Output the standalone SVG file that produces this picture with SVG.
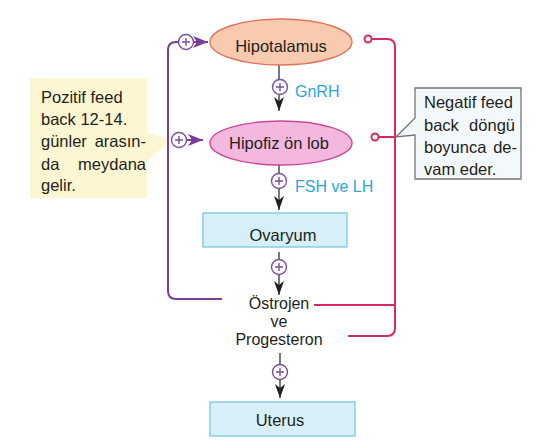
<svg xmlns="http://www.w3.org/2000/svg" width="553" height="442" viewBox="0 0 553 442">
<style>
text{font-family:"Liberation Sans",Arial,sans-serif;font-size:16.5px;fill:#231f20}
.lbl{fill:#2aa7d8;font-size:16px}
.ep{font-size:16px}
.stem{stroke:#231f20;stroke-width:1.2;fill:none}
.pc{fill:#fff;stroke:#7a4f9e;stroke-width:1.4}
.pl{stroke:#7a4f9e;stroke-width:1.4}
.pur{stroke:#7b3c9c;stroke-width:2;fill:none}
.red{stroke:#d72a60;stroke-width:2;fill:none}
.rc{fill:#fff;stroke:#d72a60;stroke-width:2}
.box{fill:#d6eff8;stroke:#6ec4e0;stroke-width:1.2}
</style>
<defs>
<marker id="ab" markerUnits="userSpaceOnUse" viewBox="0 0 14 10" refX="14" refY="5" markerWidth="14" markerHeight="10" orient="auto">
<path d="M0,0 L14,5 L0,10 L4,5 Z" fill="#231f20"/>
</marker>
<marker id="ap" markerUnits="userSpaceOnUse" viewBox="0 0 15 12" refX="15" refY="6" markerWidth="15" markerHeight="12" orient="auto">
<path d="M0,0 L15,6 L0,12 L4,6 Z" fill="#7b3c9c"/>
</marker>
</defs>
<rect width="553" height="442" fill="#fff"/>

<g id="pozitif-note">
<polygon points="146,132 171,140 146,162" fill="#fdf6d2"/>
<rect x="30" y="78" width="117" height="120" fill="#fdf6d2"/>
<text x="41" y="103">Pozitif feed</text>
<text x="41" y="125">back 12-14.</text>
<text x="41" y="147">günler</text><text x="146" y="147" text-anchor="end">arasın-</text>
<text x="41" y="170">da</text><text x="146" y="170" text-anchor="end">meydana</text>
<text x="41" y="191">gelir.</text>
</g>

<g id="negatif-note">
<path d="M415,88 H521 V179 H415 V135 L396,137 L415,118 Z" fill="#f3f8fb" stroke="#747474" stroke-width="1.3"/>
<text x="424" y="108">Negatif feed</text>
<text x="424" y="131">back</text><text x="515" y="131" text-anchor="end">döngü</text>
<text x="424" y="153">boyunca</text><text x="517" y="153" text-anchor="end">de-</text>
<text x="424" y="175">vam eder.</text>
</g>

<g id="connectors">
<path class="pur" d="M222,299 H176 Q168,299 168,291 V50 Q168,42 176,42 H178"/>
<line class="pur" x1="194" y1="42" x2="208" y2="42" marker-end="url(#ap)"/>
<line class="pur" x1="187" y1="140" x2="203" y2="140" marker-end="url(#ap)"/>
<path class="red" d="M371.5,39 H387 Q395,39 395,47 V328 Q395,336 387,336 H348"/>
<line class="red" x1="378.5" y1="137" x2="395" y2="137"/>
<line class="red" x1="314" y1="305" x2="395" y2="305"/>
<circle class="rc" cx="368" cy="39" r="3.5"/>
<circle class="rc" cx="375" cy="137" r="3.5"/>

<line class="stem" x1="279" y1="65" x2="279" y2="79.5"/>
<line class="stem" x1="279" y1="94.5" x2="279" y2="111" marker-end="url(#ab)"/>
<line class="stem" x1="279" y1="165" x2="279" y2="173.5"/>
<line class="stem" x1="279" y1="188.5" x2="279" y2="210" marker-end="url(#ab)"/>
<line class="stem" x1="279" y1="252" x2="279" y2="259.5"/>
<line class="stem" x1="279" y1="274.5" x2="279" y2="295" marker-end="url(#ab)"/>
<line class="stem" x1="280" y1="353" x2="280" y2="364.5"/>
<line class="stem" x1="280" y1="379.5" x2="280" y2="398" marker-end="url(#ab)"/>

<g id="plus-signs">
<circle class="pc" cx="186" cy="42" r="7.5"/><path class="pl" d="M182,42 H190 M186,38 V46"/>
<circle class="pc" cx="179" cy="140" r="7.5"/><path class="pl" d="M175,140 H183 M179,136 V144"/>
<circle class="pc" cx="280" cy="87" r="7.5"/><path class="pl" d="M276,87 H284 M280,83 V91"/>
<circle class="pc" cx="279" cy="181" r="7.5"/><path class="pl" d="M275,181 H283 M279,177 V185"/>
<circle class="pc" cx="279" cy="267" r="7.5"/><path class="pl" d="M275,267 H283 M279,263 V271"/>
<circle class="pc" cx="280" cy="372" r="7.5"/><path class="pl" d="M276,372 H284 M280,368 V376"/>
</g>
<text class="lbl" x="295" y="97">GnRH</text>
<text class="lbl" x="295" y="192">FSH ve LH</text>
</g>

<g id="hipotalamus">
<ellipse cx="281" cy="42" rx="71" ry="23" fill="#f8cbb0" stroke="#e0735a" stroke-width="1.4"/>
<text x="281" y="52" text-anchor="middle">Hipotalamus</text>
</g>
<g id="hipofiz">
<ellipse cx="281" cy="143" rx="71" ry="22" fill="#f4b8df" stroke="#c9479c" stroke-width="1.4"/>
<text x="279" y="149" text-anchor="middle">Hipofiz ön lob</text>
</g>
<g id="ovaryum">
<rect class="box" x="203" y="213" width="144" height="34"/>
<text x="283" y="241" text-anchor="middle">Ovaryum</text>
</g>
<g id="ostrojen">
<text class="ep" x="279" y="309" text-anchor="middle">Östrojen</text>
<text class="ep" x="279" y="327" text-anchor="middle">ve</text>
<text class="ep" x="279" y="345" text-anchor="middle">Progesteron</text>
</g>
<g id="uterus">
<rect class="box" x="210" y="402" width="145" height="34"/>
<text x="280" y="426" text-anchor="middle">Uterus</text>
</g>
</svg>
